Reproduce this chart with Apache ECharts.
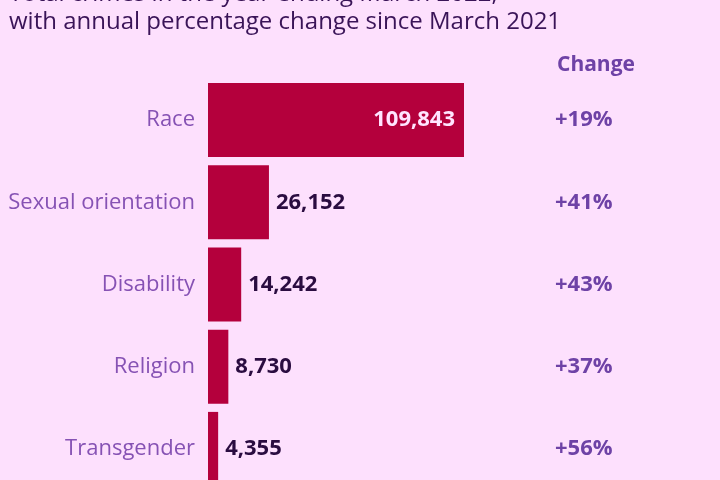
<!DOCTYPE html>
<html>
<head>
<meta charset="utf-8">
<script src="https://cdn.jsdelivr.net/npm/echarts@6/dist/echarts.min.js"></script>
<style>
  html, body { margin: 0; padding: 0; background: #fde0fd; overflow: hidden; }
  /* chart runs past the bottom edge, like the cropped original */
  #chart { width: 720px; height: 490px; }
</style>
</head>
<body>
<div id="chart"></div>
<script>
// categories and values
var categories = ['Race', 'Sexual orientation', 'Disability', 'Religion', 'Transgender']
var crimes = [109843, 26152, 14242, 8730, 4355]
var changes = ['+19%', '+41%', '+43%', '+37%', '+56%']

var font = '"Open Sans", "Noto Sans", sans-serif'

var myChart = echarts.init(document.getElementById('chart'))

myChart.setOption({
    backgroundColor: '#fde0fd',
    animation: false,
    // 标题 (first line cut off at top)
    title: [
        {
            text: 'Total crimes in the year ending March 2022,\nwith annual percentage change since March 2021',
            left: 4,
            top: -25,
            textStyle: {
                fontFamily: font,
                fontSize: 24,
                fontWeight: 'normal',
                color: '#3a1458',
                lineHeight: 28
            }
        },
        {
            text: 'Change',
            left: 552,
            top: 50,
            textStyle: {
                fontFamily: font,
                fontSize: 21,
                fontWeight: 'bold',
                color: '#6e42a6'
            }
        }
    ],
    grid: {
        left: 208,
        right: 256,
        top: 79,
        bottom: 0
    },
    xAxis: {
        type: 'value',
        min: 0,
        max: 109843,
        show: false
    },
    yAxis: [
        {
            type: 'category',
            data: categories,
            inverse: true,
            axisLine: { show: false },
            axisTick: { show: false },
            axisLabel: {
                margin: 13,
                fontFamily: font,
                fontSize: 22,
                color: '#8652b4'
            }
        },
        {
            type: 'category',
            data: changes,
            inverse: true,
            position: 'right',
            axisLine: { show: false },
            axisTick: { show: false },
            axisLabel: {
                margin: 91,
                align: 'left',
                fontFamily: font,
                fontSize: 22,
                fontWeight: 'bold',
                color: '#6e42a6'
            }
        }
    ],
    series: [
        {
            type: 'bar',
            data: crimes.map(function (v, i) {
                var item = { value: v }
                if (i === 0) {
                    item.label = {
                        position: 'insideRight',
                        distance: 9,
                        color: '#ffe4ff'
                    }
                }
                return item
            }),
            barWidth: 74,
            itemStyle: { color: '#b4003c' },
            label: {
                show: true,
                position: 'right',
                distance: 7,
                fontFamily: font,
                fontSize: 22,
                fontWeight: 'bold',
                color: '#2a0c40',
                formatter: function (p) {
                    return p.value.toLocaleString('en-GB')
                }
            }
        }
    ]
})
</script>
</body>
</html>
